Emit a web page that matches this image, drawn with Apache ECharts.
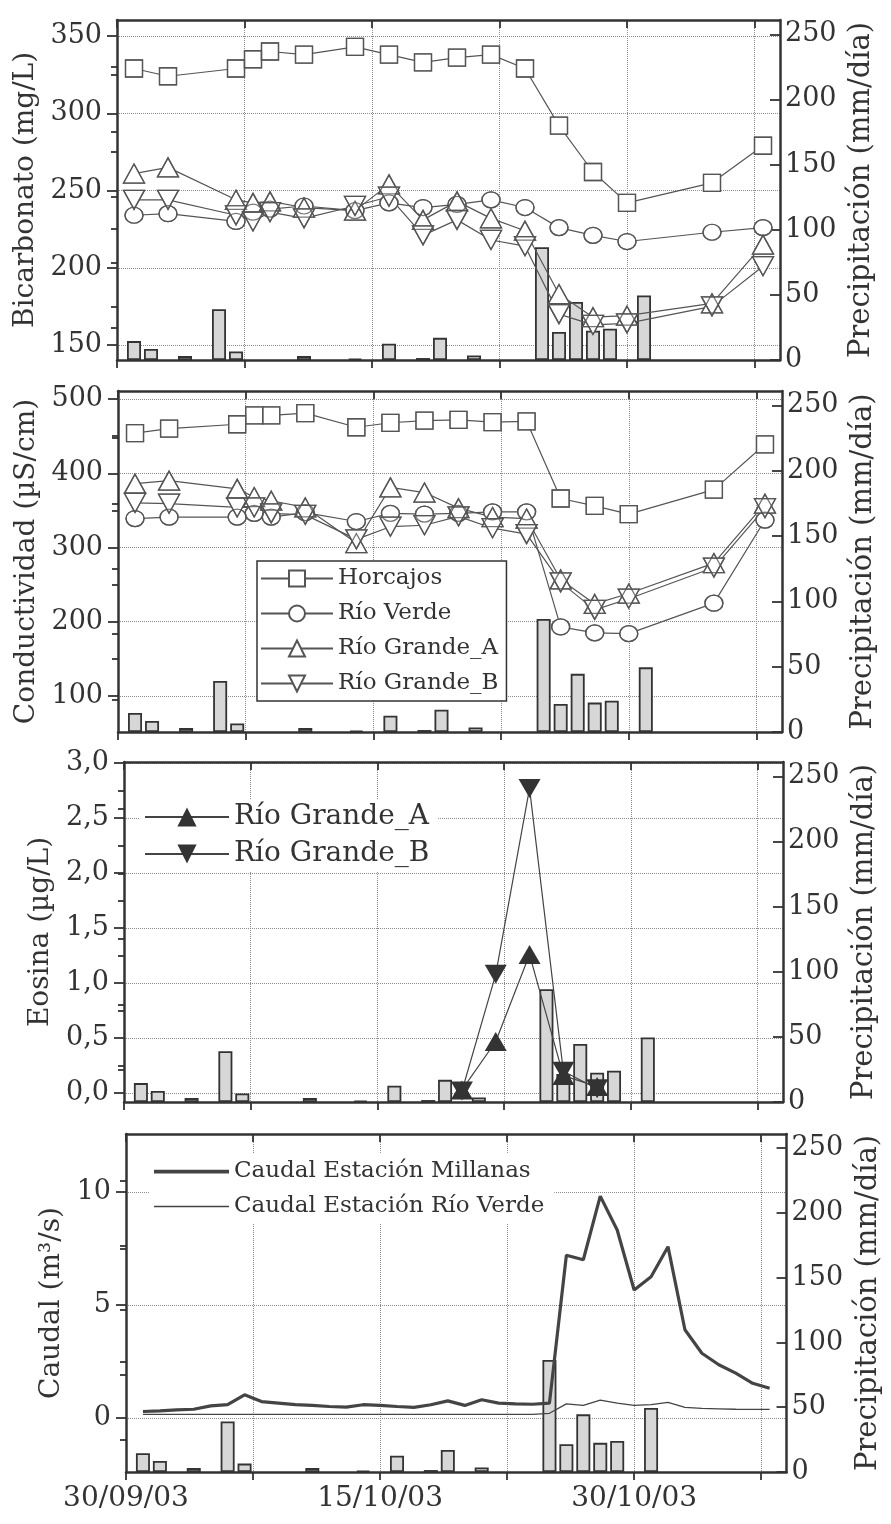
<!DOCTYPE html>
<html>
<head>
<meta charset="utf-8">
<script src="https://cdn.jsdelivr.net/npm/echarts@6/dist/echarts.min.js"></script>
<style>
  html, body { margin: 0; padding: 0; background: #fff; }
  #chart { width: 891px; height: 1524px; }
</style>
</head>
<body>
<div id="chart"></div>
<script>
// x = days counted from 30/09/03
const xTickDays = [0, 7.5, 15, 22.5, 30, 37.5];
const xLabelDays = [0, 15, 30];
const xLabelText = ['30/09/03', '15/10/03', '30/10/03'];

// sampling days (panels 1 and 2)
const sampleDays = [1, 3, 7, 8, 9, 11, 14, 16, 18, 20, 22, 24, 26, 28, 30, 35, 38];

// Bicarbonato (mg/L)
const bicHorcajos = [329, 324, 329, 335, 340, 338, 343, 338, 333, 336, 338, 329, 292, 262, 242, 255, 279];
const bicRioVerde = [234, 235, 230, 236, 238, 240, 237, 242, 239, 241, 244, 239, 226, 221, 217, 223, 226];
const bicGrandeA = [261, 265, 244, 242, 243, 239, 237, 254, 231, 243, 232, 224, 183, 168, 169, 177, 215];
const bicGrandeB = [244, 244, 234, 230, 236, 232, 240, 246, 221, 231, 218, 214, 170, 163, 164, 175, 201];

// Conductividad (µS/cm)
const conHorcajos = [454, 460, 466, 478, 478, 481, 462, 468, 471, 472, 469, 470, 366, 356, 345, 378, 439];
const conRioVerde = [339, 341, 341, 346, 341, 347, 335, 346, 345, 346, 348, 348, 193, 185, 184, 225, 337];
const conGrandeA = [386, 390, 379, 368, 363, 354, 306, 381, 374, 353, 341, 339, 257, 224, 238, 279, 359];
const conGrandeB = [360, 359, 354, 354, 346, 344, 311, 328, 330, 342, 326, 318, 253, 216, 231, 273, 353];

// Eosina (µg/L)
const eosDays = [20, 22, 24, 26, 28];
const eosGrandeA = [0.03, 0.47, 1.26, 0.16, 0.06];
const eosGrandeB = [0.02, 1.08, 2.77, 0.2, 0.04];

// Caudal (m3/s), daily
const flowDays = [1, 2, 3, 4, 5, 6, 7, 8, 9, 10, 11, 12, 13, 14, 15, 16, 17, 18, 19, 20,
  21, 22, 23, 24, 25, 26, 27, 28, 29, 30, 31, 32, 33, 34, 35, 36, 37, 38];
const flowMillanas = [0.28, 0.31, 0.35, 0.38, 0.53, 0.58, 1.02, 0.72, 0.65, 0.58,
  0.55, 0.50, 0.47, 0.58, 0.55, 0.50, 0.46, 0.58, 0.75, 0.55,
  0.80, 0.65, 0.62, 0.60, 0.65, 7.2, 7.0, 9.82, 8.32, 5.66,
  6.25, 7.58, 3.9, 2.86, 2.35, 1.98, 1.53, 1.31];
const flowRioVerde = [0.15, 0.15, 0.15, 0.15, 0.15, 0.15, 0.15, 0.15, 0.15, 0.15,
  0.15, 0.15, 0.15, 0.15, 0.15, 0.15, 0.15, 0.15, 0.15, 0.15,
  0.15, 0.15, 0.15, 0.15, 0.2, 0.62, 0.55, 0.78, 0.65, 0.55,
  0.58, 0.68, 0.46, 0.42, 0.40, 0.38, 0.37, 0.37];

// Precipitación (mm/día)
const rainDays = [1, 2, 4, 6, 7, 11, 14, 16, 18, 19, 21, 25, 26, 27, 28, 29, 31];
const rainValues = [14.5, 8.5, 3, 39, 6.5, 3, 1, 12.5, 1.5, 17, 3.5, 86.5, 21.5, 44.5, 22.5, 24, 49.5];

const rainTicks = [0, 50, 100, 150, 200, 250];
const rainMinor = [25, 75, 125, 175, 225];

const FONT = 'DejaVu Serif';
const INK = '#333';
const MARK = '#555';

const panels = [
  { grid: { left: 117, top: 20, width: 663, height: 340 },
    name: 'Bicarbonato (mg/L)', nameGap: 75, min: 140.3, max: 360.4,
    ticks: [150, 200, 250, 300, 350], minor: [175, 225, 275, 325] },
  { grid: { left: 118, top: 391, width: 664, height: 341 },
    name: 'Conductividad (µS/cm)', nameGap: 75, min: 51.5, max: 510.8,
    ticks: [100, 200, 300, 400, 500], minor: [150, 250, 350, 450] },
  { grid: { left: 124, top: 762, width: 659, height: 340 },
    name: 'Eosina (µg/L)', nameGap: 62, min: -0.08, max: 3.01,
    ticks: [0, 0.5, 1, 1.5, 2, 2.5, 3], minor: [0.25, 0.75, 1.25, 1.75, 2.25, 2.75],
    fmt: v => v.toFixed(1).replace('.', ',') },
  { grid: { left: 126, top: 1134, width: 664, height: 338 },
    name: 'Caudal (m³/s)', nameGap: 54, min: -2.4, max: 12.57,
    ticks: [0, 5, 10], minor: [2.5, 7.5] }
];

const gridLine = { show: true, lineStyle: { color: '#8c8c8c', type: 'dotted', width: 1 } };
const frame = { show: true, onZero: false, lineStyle: { color: INK, width: 2.5 } };
const tickStyle = { color: INK, width: 1.8 };
const labelFont = { fontFamily: FONT, fontSize: 27, color: INK };

const xAxis = [];
const yAxis = [];
const series = [];

panels.forEach((p, i) => {
  xAxis.push({
    type: 'value', gridIndex: i, position: 'bottom', min: 0, max: 39,
    axisLine: frame,
    axisTick: { show: true, length: 8, customValues: xTickDays, lineStyle: tickStyle },
    axisLabel: i === 3 ? {
      show: true, customValues: xLabelDays, margin: 13,
      formatter: v => xLabelText[xLabelDays.indexOf(v)],
      fontFamily: FONT, fontSize: 28, color: INK
    } : { show: false },
    splitLine: gridLine
  });
  xAxis.push({
    type: 'value', gridIndex: i, position: 'top', min: 0, max: 39,
    axisLine: frame,
    axisTick: { show: true, inside: true, length: 8, customValues: xTickDays, lineStyle: tickStyle },
    axisLabel: { show: false },
    splitLine: { show: false }
  });
  yAxis.push({
    type: 'value', gridIndex: i, position: 'left', min: p.min, max: p.max,
    name: p.name, nameLocation: 'middle', nameGap: p.nameGap,
    nameTextStyle: { fontFamily: FONT, fontSize: 28, color: INK },
    axisLine: frame,
    axisTick: { show: true, length: 10, customValues: p.ticks, lineStyle: tickStyle },
    axisLabel: Object.assign({ customValues: p.ticks, margin: 15, formatter: p.fmt || (v => String(v)) }, labelFont),
    splitLine: gridLine
  });
  yAxis.push({
    type: 'value', gridIndex: i, position: 'left', min: p.min, max: p.max,
    axisLine: { show: false },
    axisTick: { show: true, length: 6, customValues: p.minor, lineStyle: tickStyle },
    axisLabel: { show: false }, splitLine: { show: false }
  });
  yAxis.push({
    type: 'value', gridIndex: i, position: 'right', min: 0, max: 261,
    name: 'Precipitación (mm/día)', nameLocation: 'middle', nameGap: 58,
    nameTextStyle: { fontFamily: FONT, fontSize: 29, color: INK },
    axisLine: frame,
    axisTick: { show: true, inside: true, length: 10, customValues: rainTicks, lineStyle: tickStyle },
    axisLabel: Object.assign({ customValues: rainTicks, margin: 5 }, labelFont),
    splitLine: { show: false }
  });
  yAxis.push({
    type: 'value', gridIndex: i, position: 'right', min: 0, max: 261,
    axisLine: { show: false },
    axisTick: { show: true, inside: true, length: 6, customValues: rainMinor, lineStyle: tickStyle },
    axisLabel: { show: false }, splitLine: { show: false }
  });

  series.push({
    type: 'bar', name: 'Precipitación ' + i, xAxisIndex: 2 * i, yAxisIndex: 4 * i + 2,
    data: rainDays.map((d, k) => [d, rainValues[k]]),
    barWidth: 14, z: 1, silent: true,
    itemStyle: { color: '#d7d7d7', borderColor: INK, borderWidth: 1.8 }
  });
});

const openSymbols = [
  { symbol: 'rect', size: [17, 17], rotate: 0 },
  { symbol: 'circle', size: [18, 16], rotate: 0 },
  { symbol: 'triangle', size: [21, 19], rotate: 0 },
  { symbol: 'triangle', size: [21, 19], rotate: 180 }
];
const stationNames = ['Horcajos', 'Río Verde', 'Río Grande_A', 'Río Grande_B'];

function addOpenSet(panel, prefix, arrays) {
  arrays.forEach((arr, k) => {
    const s = openSymbols[k];
    series.push({
      type: 'line', name: prefix + stationNames[k],
      xAxisIndex: 2 * panel, yAxisIndex: 4 * panel,
      data: sampleDays.map((d, j) => [d, arr[j]]),
      symbol: s.symbol, symbolSize: s.size, symbolRotate: s.rotate, showSymbol: true,
      itemStyle: { color: '#fff', borderColor: MARK, borderWidth: 1.3 },
      lineStyle: { color: MARK, width: 1.2 }, z: 2
    });
  });
  // outlines on top so that overlapping markers stay visible
  arrays.forEach((arr, k) => {
    const s = openSymbols[k];
    series.push({
      type: 'scatter', name: prefix + 'outline ' + k, silent: true,
      xAxisIndex: 2 * panel, yAxisIndex: 4 * panel,
      data: sampleDays.map((d, j) => [d, arr[j]]),
      symbol: s.symbol, symbolSize: s.size, symbolRotate: s.rotate,
      itemStyle: { color: 'rgba(0,0,0,0)', borderColor: MARK, borderWidth: 1.3 }, z: 3
    });
  });
}

addOpenSet(0, 'HCO3 ', [bicHorcajos, bicRioVerde, bicGrandeA, bicGrandeB]);
addOpenSet(1, '', [conHorcajos, conRioVerde, conGrandeA, conGrandeB]);

[eosGrandeA, eosGrandeB].forEach((arr, k) => {
  series.push({
    type: 'line', name: 'Eosina ' + stationNames[k + 2],
    xAxisIndex: 4, yAxisIndex: 8,
    data: eosDays.map((d, j) => [d, arr[j]]),
    symbol: 'triangle', symbolSize: [22, 19], symbolRotate: k === 0 ? 0 : 180,
    itemStyle: { color: '#333' }, lineStyle: { color: '#444', width: 1.2 }, z: 3
  });
});

series.push({
  type: 'line', name: 'Caudal Estación Millanas', xAxisIndex: 6, yAxisIndex: 12,
  data: flowDays.map((d, j) => [d, flowMillanas[j]]),
  symbol: 'none', itemStyle: { color: '#444' }, lineStyle: { color: '#444', width: 3.2 }, z: 3
});
series.push({
  type: 'line', name: 'Caudal Estación Río Verde', xAxisIndex: 6, yAxisIndex: 12,
  data: flowDays.map((d, j) => [d, flowRioVerde[j]]),
  symbol: 'none', itemStyle: { color: '#444' }, lineStyle: { color: '#444', width: 1.3 }, z: 3
});

const legend = [
  {
    left: 257, top: 561, orient: 'vertical', data: stationNames,
    itemWidth: 72, itemHeight: 20, itemGap: 12,
    backgroundColor: '#fff', borderColor: INK, borderWidth: 1.5, padding: [6, 8, 6, 3],
    textStyle: { fontFamily: FONT, fontSize: 23, color: INK }, selectedMode: false
  },
  {
    left: 140, top: 799, orient: 'vertical',
    data: ['Eosina Río Grande_A', 'Eosina Río Grande_B'],
    formatter: n => n.replace('Eosina ', ''),
    itemWidth: 84, itemHeight: 24, itemGap: 9,
    backgroundColor: '#fff', padding: [4, 8, 4, 4],
    textStyle: { fontFamily: FONT, fontSize: 28, color: INK }, selectedMode: false
  },
  {
    left: 150, top: 1154, orient: 'vertical',
    data: [
      { name: 'Caudal Estación Millanas', icon: 'path://M0,0h100v5h-100z' },
      { name: 'Caudal Estación Río Verde', icon: 'path://M0,0h100v2h-100z' }
    ],
    itemWidth: 75, itemHeight: 16, itemGap: 12,
    backgroundColor: '#fff', padding: [6, 10, 6, 4],
    textStyle: { fontFamily: FONT, fontSize: 23, color: INK }, selectedMode: false
  }
];

const chart = echarts.init(document.getElementById('chart'), null, { renderer: 'canvas' });
chart.setOption({
  backgroundColor: '#fff',
  animation: false,
  grid: panels.map(p => p.grid),
  xAxis: xAxis,
  yAxis: yAxis,
  legend: legend,
  series: series
});
</script>
</body>
</html>
